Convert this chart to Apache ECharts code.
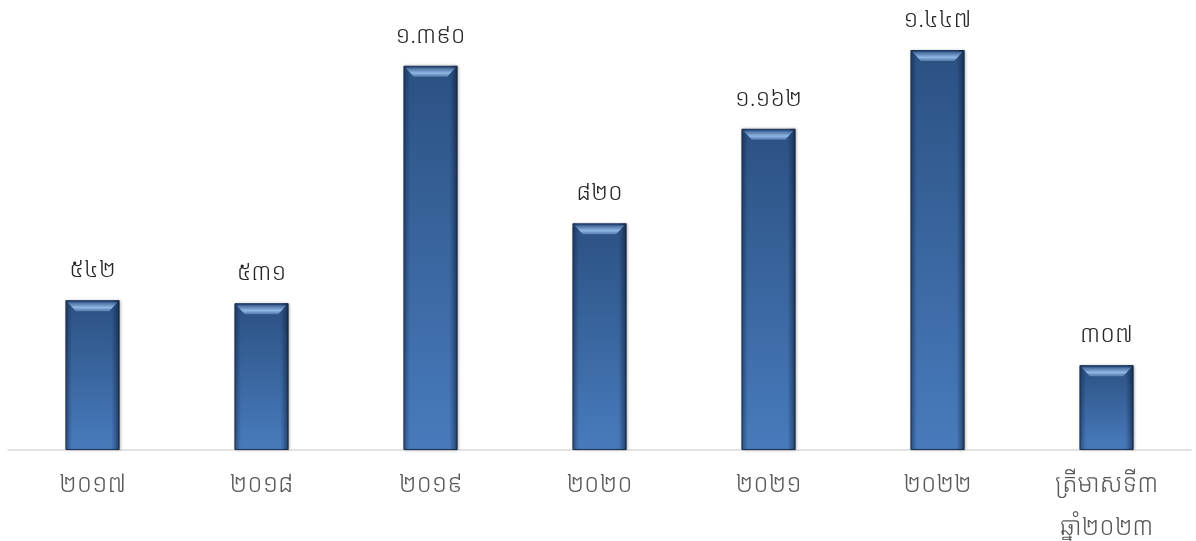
<!DOCTYPE html>
<html>
<head>
<meta charset="utf-8">
<script src="https://cdn.jsdelivr.net/npm/echarts@6/dist/echarts.min.js"></script>
<style>
html,body{margin:0;padding:0;background:#fff;}
#c{width:1196px;height:541px;}
</style>
</head>
<body>
<div id="c"></div>
<script>
const categories = ['២០១៧', '២០១៨', '២០១៩', '២០២០', '២០២១', '២០២២', 'ត្រីមាសទី៣\nឆ្នាំ២០២៣'];
const values = [542, 531, 1390, 820, 1162, 1447, 307];
const valueLabels = ['៥៤២', '៥៣១', '១.៣៩០', '៨២០', '១.១៦២', '១.៤៤៧', '៣០៧'];

const FONT = "'Noto Sans Khmer', 'Khmer OS', 'Noto Sans', sans-serif";
const chart = echarts.init(document.getElementById('c'));
chart.setOption({
  animation: false,
  grid: { left: 8, right: 5, top: 50, bottom: 91, containLabel: false, outerBoundsMode: 'none' },
  xAxis: {
    type: 'category',
    data: categories,
    axisLine: { lineStyle: { color: '#d9d9d9', width: 1.5 } },
    axisTick: { show: false },
    axisLabel: { color: '#595959', fontSize: 25, fontWeight: 300, fontFamily: FONT, margin: 13, lineHeight: 43 }
  },
  yAxis: {
    type: 'value', min: 0, max: 1447,
    show: false, splitLine: { show: false }
  },
  series: [
    {
      type: 'bar',
      data: values,
      barWidth: 54,
      itemStyle: {
        color: new echarts.graphic.LinearGradient(0, 0, 0, 1, [
          { offset: 0, color: '#2d5487' },
          { offset: 1, color: '#4b80c3' }
        ]),
        borderColor: '#1f3a60',
        borderWidth: 1,
        shadowColor: 'rgba(0,0,0,0.25)',
        shadowBlur: 3,
        shadowOffsetX: 1
      },
      label: {
        show: true,
        position: 'top',
        distance: 18,
        color: '#262626',
        fontSize: 24,
        fontWeight: 300,
        fontFamily: FONT,
        formatter: p => valueLabels[p.dataIndex]
      }
    },
    {
      type: 'bar',
      data: values,
      barWidth: 54,
      barGap: '-100%',
      silent: true,
      z: 3,
      itemStyle: {
        color: new echarts.graphic.LinearGradient(0, 0, 1, 0, [
          { offset: 0, color: 'rgba(15,30,60,0.45)' },
          { offset: 0.12, color: 'rgba(15,30,60,0.05)' },
          { offset: 0.85, color: 'rgba(15,30,60,0.05)' },
          { offset: 1, color: 'rgba(10,20,40,0.6)' }
        ])
      }
    },
    {
      type: 'pictorialBar',
      data: values,
      symbol: 'path://M0,0 L48,0 L40,8 L8,8 Z',
      symbolSize: [50, 9],
      symbolPosition: 'end',
      symbolOffset: [0, 2],
      z: 4,
      silent: true,
      itemStyle: {
        color: new echarts.graphic.LinearGradient(0, 0, 0, 1, [
          { offset: 0, color: 'rgba(70,105,155,0.9)' },
          { offset: 0.6, color: 'rgba(150,190,235,0.95)' },
          { offset: 1, color: 'rgba(110,150,200,0.6)' }
        ])
      }
    }
  ]
});
</script>
</body>
</html>
